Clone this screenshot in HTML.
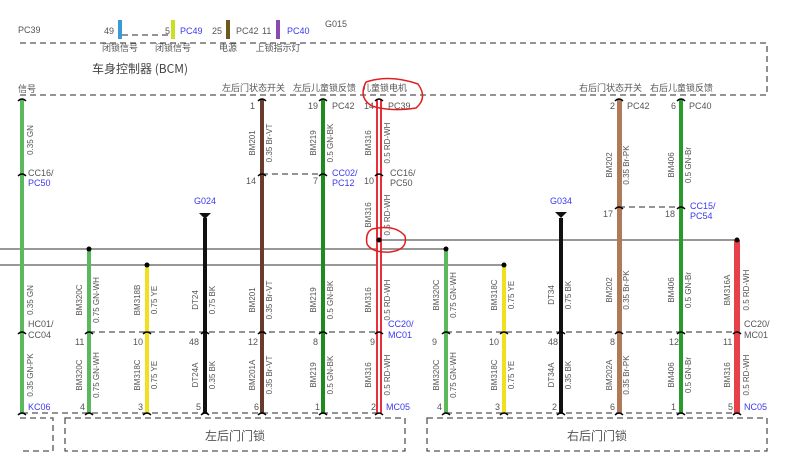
<!DOCTYPE html>
<html><head><meta charset="utf-8"><style>
html,body{margin:0;padding:0;background:#fff;}
svg{display:block;font-family:"Liberation Sans","Noto Sans CJK SC",sans-serif;}
.t{font-size:9px;fill:#555;}
.b{font-size:9px;fill:#3a3aee;}
.r{font-size:8px;fill:#555;}
.cn{font-size:9px;fill:#555;font-family:"Noto Sans CJK SC",sans-serif;}
.d{stroke:#555;stroke-width:1.3;stroke-dasharray:6,4;fill:none;}
.h{stroke:#777;stroke-width:1.5;}
</style></head><body>
<svg width="793" height="474" viewBox="0 0 793 474" xmlns="http://www.w3.org/2000/svg">
<rect width="793" height="474" fill="#fff"/>
<!-- top wires -->
<rect x="118" y="20" width="4" height="19" fill="#3a9ad9"/>
<rect x="171" y="20" width="4" height="19" fill="#c8e020"/>
<rect x="226" y="20" width="4" height="19" fill="#6b5a1a"/>
<rect x="276" y="20" width="4" height="19" fill="#8a4ab0"/>
<line x1="122" y1="35" x2="171" y2="35" class="d"/>
<text x="18" y="33" class="t">PC39</text>
<text x="104" y="34" class="t">49</text><text x="165" y="34" class="t">5</text>
<text x="180" y="34" class="b">PC49</text>
<text x="212" y="34" class="t">25</text><text x="236" y="34" class="t">PC42</text>
<text x="262" y="34" class="t">11</text><text x="287" y="34" class="b">PC40</text>
<text x="325" y="27" class="t">G015</text>
<!-- BCM box -->
<path d="M20 43 H767 V95 H20" class="d"/>
<text x="120" y="51" class="cn" font-size="8" text-anchor="middle">闭锁信号</text>
<text x="173" y="51" class="cn" font-size="8" text-anchor="middle">闭锁信号</text>
<text x="228" y="51" class="cn" font-size="8" text-anchor="middle">电源</text>
<text x="278" y="51" class="cn" font-size="8" text-anchor="middle">上锁指示灯</text>
<text x="92" y="73" style="font-size:12px;fill:#444;font-family:'Noto Sans CJK SC',sans-serif">车身控制器 (BCM)</text>
<text x="18" y="92" class="cn" font-size="8">信号</text>
<text x="222" y="91" class="cn" font-size="8">左后门状态开关</text>
<text x="293" y="91" class="cn" font-size="8">左后儿童锁反馈</text>
<text x="362" y="91" class="cn" font-size="8">儿童锁电机</text>
<text x="579" y="91" class="cn" font-size="8">右后门状态开关</text>
<text x="650" y="91" class="cn" font-size="8">右后儿童锁反馈</text>
<!-- horizontal lines -->
<line x1="379" y1="240" x2="737" y2="240" class="h"/>
<line x1="0" y1="249" x2="446" y2="249" class="h"/>
<line x1="0" y1="265" x2="504" y2="265" class="h"/>
<!-- dashed connectors -->
<line x1="262" y1="174" x2="323" y2="174" class="d"/>
<line x1="619" y1="207" x2="681" y2="207" class="d"/>
<line x1="89" y1="332" x2="379" y2="332" class="d"/>
<line x1="446" y1="332" x2="737" y2="332" class="d"/>
<line x1="22" y1="413" x2="379" y2="413" class="d"/>
<line x1="446" y1="413" x2="737" y2="413" class="d"/>
<!-- wires -->
<rect x="20" y="99" width="4" height="314" fill="#5cb85c"/>
<rect x="87" y="249" width="4" height="164" fill="#5cb85c"/>
<rect x="145" y="265" width="4" height="148" fill="#f0e020"/>
<rect x="203" y="218" width="4" height="195" fill="#111"/>
<polygon points="199,213 211,213 205,219" fill="#111"/>
<rect x="260" y="99" width="4" height="314" fill="#6b3a2e"/>
<rect x="321" y="99" width="4" height="314" fill="#1f8a1f"/>
<rect x="376" y="99" width="6" height="314" fill="#e8303a"/><rect x="378" y="99" width="2" height="314" fill="#fff"/>
<rect x="444" y="249" width="4" height="164" fill="#5cb85c"/>
<rect x="502" y="265" width="4" height="148" fill="#f0e020"/>
<rect x="559" y="218" width="4" height="195" fill="#111"/>
<polygon points="555,212 567,212 561,218" fill="#111"/>
<rect x="617" y="99" width="5" height="314" fill="#b07a5a"/>
<rect x="679" y="99" width="4" height="314" fill="#2a9a2a"/>
<rect x="734" y="240" width="6" height="173" fill="#e8404a"/>
<!-- dots -->
<g fill="#000"><circle cx="89" cy="249" r="2.5"/><circle cx="147" cy="265" r="2.5"/><circle cx="379" cy="240" r="2.5"/><circle cx="446" cy="249" r="2.5"/><circle cx="504" cy="265" r="2.5"/><circle cx="737" cy="240" r="2.5"/></g>
<!-- caps -->
<g stroke="#000" stroke-width="1.4" fill="none">
<path d="M18 101 q4 -4 8 0"/><path d="M258 101 q4 -4 8 0"/><path d="M319 101 q4 -4 8 0"/><path d="M375 101 q4 -4 8 0"/><path d="M615 101 q4 -4 8 0"/><path d="M677 101 q4 -4 8 0"/>
<path d="M18 176 q4 -4 8 0"/><path d="M258 176 q4 -4 8 0"/><path d="M319 176 q4 -4 8 0"/><path d="M375 176 q4 -4 8 0"/><path d="M615 209 q4 -4 8 0"/><path d="M677 209 q4 -4 8 0"/>
<path d="M18 334 q4 -4 8 0"/><path d="M85 334 q4 -4 8 0"/><path d="M143 334 q4 -4 8 0"/><path d="M201 334 q4 -4 8 0"/><path d="M258 334 q4 -4 8 0"/><path d="M319 334 q4 -4 8 0"/><path d="M375 334 q4 -4 8 0"/>
<path d="M442 334 q4 -4 8 0"/><path d="M500 334 q4 -4 8 0"/><path d="M557 334 q4 -4 8 0"/><path d="M615 334 q4 -4 8 0"/><path d="M677 334 q4 -4 8 0"/><path d="M733 334 q4 -4 8 0"/>
<path d="M18 415 q4 -4 8 0"/><path d="M85 415 q4 -4 8 0"/><path d="M143 415 q4 -4 8 0"/><path d="M201 415 q4 -4 8 0"/><path d="M258 415 q4 -4 8 0"/><path d="M319 415 q4 -4 8 0"/><path d="M375 415 q4 -4 8 0"/>
<path d="M442 415 q4 -4 8 0"/><path d="M500 415 q4 -4 8 0"/><path d="M557 415 q4 -4 8 0"/><path d="M615 415 q4 -4 8 0"/><path d="M677 415 q4 -4 8 0"/><path d="M733 415 q4 -4 8 0"/>
</g>
<!-- pin numbers / connector labels -->
<g class="t">
<text x="250" y="109">1</text><text x="308" y="109">19</text><text x="332" y="109">PC42</text><text x="364" y="109">14</text><text x="388" y="109">PC39</text>
<text x="610" y="109">2</text><text x="627" y="109">PC42</text><text x="671" y="109">6</text><text x="689" y="109">PC40</text>
<text x="28" y="176">CC16/</text>
<text x="246" y="184">14</text><text x="313" y="184">7</text><text x="364" y="184">10</text><text x="390" y="176">CC16/</text><text x="390" y="186">PC50</text>
<text x="603" y="217">17</text><text x="665" y="217">18</text>
<text x="28" y="327">HC01/</text><text x="28" y="338">CC04</text>
<text x="75" y="345">11</text><text x="133" y="345">10</text><text x="189" y="345">48</text><text x="248" y="345">12</text><text x="313" y="345">8</text><text x="370" y="345">9</text>
<text x="432" y="345">9</text><text x="489" y="345">10</text><text x="548" y="345">48</text><text x="610" y="345">8</text><text x="669" y="345">12</text><text x="723" y="345">11</text>
<text x="744" y="327">CC20/</text><text x="744" y="338">MC01</text>
<text x="80" y="410">4</text><text x="138" y="410">3</text><text x="196" y="410">5</text><text x="254" y="410">6</text><text x="315" y="410">1</text><text x="371" y="410">2</text>
<text x="437" y="410">4</text><text x="495" y="410">3</text><text x="552" y="410">2</text><text x="610" y="410">6</text><text x="671" y="410">1</text><text x="728" y="410">5</text>
</g>
<g class="b">
<text x="28" y="186">PC50</text><text x="332" y="176">CC02/</text><text x="332" y="186">PC12</text>
<text x="690" y="209">CC15/</text><text x="690" y="219">PC54</text>
<text x="194" y="204">G024</text><text x="550" y="204">G034</text>
<text x="388" y="327">CC20/</text><text x="388" y="338">MC01</text>
<text x="28" y="410">KC06</text><text x="386" y="410">MC05</text><text x="744" y="410">NC05</text>
</g>
<!-- rotated wire labels -->
<g class="r" text-anchor="middle">
<text transform="translate(33,140) rotate(-90)">0.35 GN</text>
<text transform="translate(259,143) rotate(-90) translate(0,-4)">BM201</text><text transform="translate(272,143) rotate(-90)">0.35 Br-VT</text>
<text transform="translate(320,143) rotate(-90) translate(0,-4)">BM219</text><text transform="translate(333,143) rotate(-90)">0.5 GN-BK</text>
<text transform="translate(375,143) rotate(-90) translate(0,-4)">BM316</text><text transform="translate(390,143) rotate(-90)">0.5 RD-WH</text>
<text transform="translate(375,215) rotate(-90) translate(0,-4)">BM316</text><text transform="translate(390,215) rotate(-90)">0.5 RD-WH</text>
<text transform="translate(616,165) rotate(-90) translate(0,-4)">BM202</text><text transform="translate(629,165) rotate(-90)">0.35 Br-PK</text>
<text transform="translate(678,165) rotate(-90) translate(0,-4)">BM406</text><text transform="translate(691,165) rotate(-90)">0.5 GN-Br</text>
<text transform="translate(33,300) rotate(-90)">0.35 GN</text>
<text transform="translate(86,300) rotate(-90) translate(0,-4)">BM320C</text><text transform="translate(99,300) rotate(-90)">0.75 GN-WH</text>
<text transform="translate(144,300) rotate(-90) translate(0,-4)">BM318B</text><text transform="translate(157,300) rotate(-90)">0.75 YE</text>
<text transform="translate(202,300) rotate(-90) translate(0,-4)">DT24</text><text transform="translate(215,300) rotate(-90)">0.75 BK</text>
<text transform="translate(259,300) rotate(-90) translate(0,-4)">BM201</text><text transform="translate(272,300) rotate(-90)">0.35 Br-VT</text>
<text transform="translate(320,300) rotate(-90) translate(0,-4)">BM219</text><text transform="translate(333,300) rotate(-90)">0.5 GN-BK</text>
<text transform="translate(375,300) rotate(-90) translate(0,-4)">BM316</text><text transform="translate(390,300) rotate(-90)">0.5 RD-WH</text>
<text transform="translate(443,295) rotate(-90) translate(0,-4)">BM320C</text><text transform="translate(456,295) rotate(-90)">0.75 GN-WH</text>
<text transform="translate(501,295) rotate(-90) translate(0,-4)">BM318C</text><text transform="translate(514,295) rotate(-90)">0.75 YE</text>
<text transform="translate(558,295) rotate(-90) translate(0,-4)">DT34</text><text transform="translate(571,295) rotate(-90)">0.75 BK</text>
<text transform="translate(616,290) rotate(-90) translate(0,-4)">BM202</text><text transform="translate(629,290) rotate(-90)">0.35 Br-PK</text>
<text transform="translate(678,290) rotate(-90) translate(0,-4)">BM406</text><text transform="translate(691,290) rotate(-90)">0.5 GN-Br</text>
<text transform="translate(734,290) rotate(-90) translate(0,-4)">BM316A</text><text transform="translate(749,290) rotate(-90)">0.5 RD-WH</text>
<text transform="translate(33,375) rotate(-90)">0.35 GN-PK</text>
<text transform="translate(86,375) rotate(-90) translate(0,-4)">BM320C</text><text transform="translate(99,375) rotate(-90)">0.75 GN-WH</text>
<text transform="translate(144,375) rotate(-90) translate(0,-4)">BM318C</text><text transform="translate(157,375) rotate(-90)">0.75 YE</text>
<text transform="translate(202,375) rotate(-90) translate(0,-4)">DT24A</text><text transform="translate(215,375) rotate(-90)">0.35 BK</text>
<text transform="translate(259,375) rotate(-90) translate(0,-4)">BM201A</text><text transform="translate(272,375) rotate(-90)">0.35 Br-VT</text>
<text transform="translate(320,375) rotate(-90) translate(0,-4)">BM219</text><text transform="translate(333,375) rotate(-90)">0.5 GN-BK</text>
<text transform="translate(375,375) rotate(-90) translate(0,-4)">BM316</text><text transform="translate(390,375) rotate(-90)">0.5 RD-WH</text>
<text transform="translate(443,375) rotate(-90) translate(0,-4)">BM320C</text><text transform="translate(456,375) rotate(-90)">0.75 GN-WH</text>
<text transform="translate(501,375) rotate(-90) translate(0,-4)">BM318C</text><text transform="translate(514,375) rotate(-90)">0.75 YE</text>
<text transform="translate(558,375) rotate(-90) translate(0,-4)">DT34A</text><text transform="translate(571,375) rotate(-90)">0.35 BK</text>
<text transform="translate(616,375) rotate(-90) translate(0,-4)">BM202A</text><text transform="translate(629,375) rotate(-90)">0.35 Br-PK</text>
<text transform="translate(678,375) rotate(-90) translate(0,-4)">BM406</text><text transform="translate(691,375) rotate(-90)">0.5 GN-Br</text>
<text transform="translate(734,375) rotate(-90) translate(0,-4)">BM316</text><text transform="translate(749,375) rotate(-90)">0.5 RD-WH</text>
</g>
<!-- bottom boxes -->
<path d="M20 418 H53 V451 H20" class="d"/>
<rect x="65" y="418" width="340" height="33" class="d"/>
<rect x="427" y="418" width="340" height="33" class="d"/>
<text x="235" y="440" text-anchor="middle" style="font-size:12px;fill:#555;font-family:'Noto Sans CJK SC',sans-serif">左后门门锁</text>
<text x="597" y="440" text-anchor="middle" style="font-size:12px;fill:#555;font-family:'Noto Sans CJK SC',sans-serif">右后门门锁</text>
<!-- red annotations -->
<path d="M366 82 Q390 74 418 84 Q428 98 416 108 Q390 112 372 106 Q358 98 366 82" stroke="#e02020" stroke-width="1.5" fill="none"/>
<path d="M372 229 Q395 224 405 236 Q408 250 390 252 Q372 253 367 244 Q365 233 372 229" stroke="#e02020" stroke-width="1.5" fill="none"/>
</svg>
</body></html>
